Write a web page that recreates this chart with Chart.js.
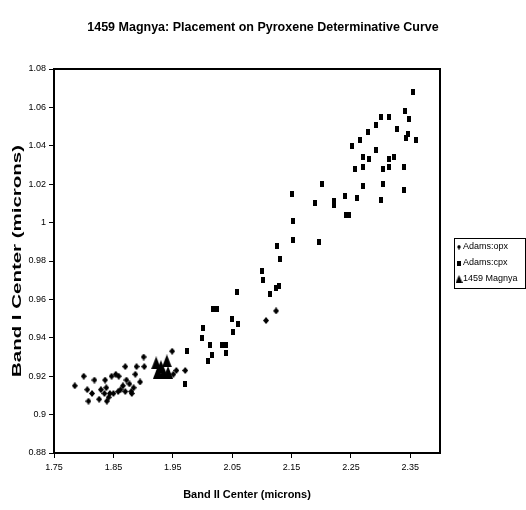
<!DOCTYPE html>
<html><head><meta charset="utf-8">
<style>html,body{margin:0;padding:0;background:#fff}canvas{display:block}</style>
<script src="https://cdn.jsdelivr.net/npm/chart.js@4.4.1/dist/chart.umd.min.js"></script>
</head><body>
<canvas id="c" width="526" height="510"></canvas>
<script>
const chartTitle = '1459 Magnya: Placement on Pyroxene Determinative Curve';
const xAxisTitle = 'Band II Center (microns)';
const yAxisTitle = 'Band I Center (microns)';
const seriesNames = ['Adams:opx', 'Adams:cpx', '1459 Magnya'];
const xTicks = [1.75, 1.85, 1.95, 2.05, 2.15, 2.25, 2.35];
const yTicks = [0.88, 0.9, 0.92, 0.94, 0.96, 0.98, 1, 1.02, 1.04, 1.06, 1.08];

const opxX = [1.785,1.800,1.806,1.808,1.814,1.818,1.826,1.836,1.838,1.835,1.839,1.844,1.847,1.850,1.854,1.858,1.859,1.870,1.872,1.870,1.877,1.880,1.881,1.884,1.887,1.889,1.895,1.901,1.902,1.949,1.956,1.951,1.971,2.107,2.124,1.829,1.842,1.862,1.866];
const opxY = [0.915,0.920,0.913,0.907,0.911,0.918,0.908,0.918,0.914,0.911,0.907,0.911,0.920,0.911,0.921,0.912,0.920,0.925,0.918,0.912,0.916,0.912,0.911,0.914,0.921,0.925,0.917,0.930,0.925,0.933,0.923,0.921,0.923,0.949,0.954,0.913,0.909,0.913,0.915];

const cpxX = [2.354,2.341,2.348,2.301,2.314,2.293,2.328,2.278,2.266,2.342,2.346,2.360,2.251,2.292,2.270,2.281,2.314,2.323,2.257,2.271,2.304,2.314,2.340,2.201,2.270,2.304,2.340,2.150,2.189,2.222,2.222,2.240,2.260,2.300,2.241,2.246,2.152,2.152,2.197,2.126,2.131,2.101,2.102,2.114,2.123,2.129,2.058,2.018,2.024,2.049,2.060,2.051,2.001,2.000,2.013,2.033,2.039,2.039,2.016,2.009,1.974,1.970];
const cpxY = [1.068,1.058,1.054,1.055,1.055,1.051,1.049,1.047,1.043,1.044,1.046,1.043,1.040,1.038,1.034,1.033,1.033,1.034,1.028,1.029,1.028,1.029,1.029,1.020,1.019,1.020,1.017,1.015,1.010,1.011,1.009,1.014,1.013,1.012,1.004,1.004,1.001,0.991,0.990,0.988,0.981,0.975,0.970,0.963,0.966,0.967,0.964,0.955,0.955,0.950,0.947,0.943,0.945,0.940,0.936,0.936,0.936,0.932,0.931,0.928,0.933,0.916];

const magX = [1.922,1.940,1.930,1.925,1.942,1.934];
const magY = [0.927,0.928,0.925,0.922,0.922,0.922];

function marker(kind, w, h) {
  const c = document.createElement('canvas');
  c.width = w; c.height = h;
  const g = c.getContext('2d');
  g.fillStyle = '#000';
  g.beginPath();
  if (kind === 'diamond') { g.moveTo(w/2,0); g.lineTo(w,h/2); g.lineTo(w/2,h); g.lineTo(0,h/2); }
  else if (kind === 'rect') { g.rect(0,0,w,h); }
  else { g.moveTo(w/2,0); g.lineTo(w,h); g.lineTo(0,h); }
  g.closePath(); g.fill();
  return c;
}
const styles = [marker('diamond',6,7), marker('rect',4,6), marker('tri',10,13)];
const legendStyles = [marker('diamond',4,5), marker('rect',4,5), marker('tri',7,8)];

const toPts = (xs, ys) => xs.map((x, i) => ({x, y: ys[i]}));
const FONT = '"Liberation Sans", Arial, sans-serif';

const frame = {
  id: 'frame',
  afterDatasetsDraw(chart) {
    const {ctx, chartArea: a} = chart;
    ctx.save();
    ctx.strokeStyle = '#000'; ctx.lineWidth = 2;
    ctx.strokeRect(a.left, a.top, a.right - a.left, a.bottom - a.top);
    ctx.restore();
  },
  afterDraw(chart) {
    const {ctx, chartArea: a} = chart;
    ctx.save();
    ctx.translate(18, (a.top + a.bottom) / 2);
    ctx.rotate(-Math.PI / 2);
    ctx.font = 'bold 12px ' + FONT;
    const w = ctx.measureText(yAxisTitle).width;
    ctx.scale(232 / w, 1);
    ctx.textAlign = 'center'; ctx.textBaseline = 'middle'; ctx.fillStyle = '#000';
    ctx.fillText(yAxisTitle, 0, 0);
    ctx.restore();
    ctx.save();
    const bx = 454, by = 238, bw = 71, bh = 50;
    ctx.strokeStyle = '#000'; ctx.lineWidth = 1;
    ctx.strokeRect(bx + 0.5, by + 0.5, bw, bh);
    ctx.fillStyle = '#000'; ctx.textBaseline = 'middle';
    ctx.font = '9px ' + FONT;
    seriesNames.forEach((name, i) => {
      const cy = by + 9 + i * 16;
      const s = legendStyles[i];
      ctx.drawImage(s, bx + 5 - s.width / 2, cy - s.height / 2);
      ctx.fillText(name, bx + 9, cy);
    });
    ctx.restore();
  }
};

new Chart(document.getElementById('c'), {
  type: 'scatter',
  data: {
    datasets: [
      {label: seriesNames[0], data: toPts(opxX, opxY), pointStyle: styles[0]},
      {label: seriesNames[1], data: toPts(cpxX, cpxY), pointStyle: styles[1]},
      {label: seriesNames[2], data: toPts(magX, magY), pointStyle: styles[2]}
    ]
  },
  options: {
    responsive: false,
    animation: false,
    layout: {padding: 0},
    plugins: {
      legend: {display: false},
      tooltip: {enabled: false},
      title: {
        display: true, text: chartTitle, color: '#000',
        font: {family: FONT, size: 12.5, weight: 'bold'},
        padding: {top: 20, bottom: 34}
      }
    },
    scales: {
      x: {
        type: 'linear', min: 1.75, max: 2.40,
        afterBuildTicks: (s) => { s.ticks = xTicks.map(v => ({value: v})); },
        afterFit: (s) => { s.height = 57; },
        grid: {display: true, drawOnChartArea: false, drawTicks: true, tickLength: 5, color: '#000'},
        border: {display: false},
        ticks: {color: '#000', font: {family: FONT, size: 9}, padding: 4, maxRotation: 0,
          callback: (v) => String(Number(v.toFixed(2)))},
        title: {display: true, text: xAxisTitle, color: '#000',
          font: {family: FONT, size: 11, weight: 'bold'}, padding: {top: 4, bottom: 8}}
      },
      y: {
        type: 'linear', min: 0.88, max: 1.08,
        afterBuildTicks: (s) => { s.ticks = yTicks.map(v => ({value: v})); },
        afterFit: (s) => { s.width = 54; },
        grid: {display: true, drawOnChartArea: false, drawTicks: true, tickLength: 5, color: '#000'},
        border: {display: false},
        ticks: {color: '#000', font: {family: FONT, size: 9}, padding: 3,
          callback: (v) => String(Number(v.toFixed(2)))}
      },
      yRight: {
        type: 'linear', position: 'right', display: true,
        grid: {display: false}, border: {display: false}, ticks: {display: false},
        afterFit: (s) => { s.width = 86; }
      }
    }
  },
  plugins: [frame]
});
</script>
</body></html>
